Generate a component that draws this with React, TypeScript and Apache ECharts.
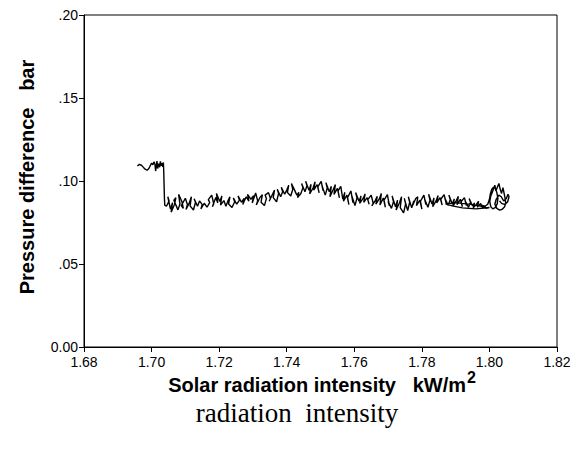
import React, { useEffect, useRef } from "react";
import * as echarts from "echarts";

const xTicks = [1.68, 1.7, 1.72, 1.74, 1.76, 1.78, 1.8, 1.82];
const yTicks = [0, 0.05, 0.1, 0.15, 0.2];

const segStart: number[][] = [
  [1.6958, 0.109], [1.6964, 0.11], [1.697, 0.1095], [1.6976, 0.1082], [1.6982, 0.107], [1.6987, 0.1065],
  [1.6992, 0.1075], [1.6996, 0.1092], [1.7, 0.1108], [1.7004, 0.1098], [1.7007, 0.1115], [1.701, 0.1102],
  [1.7012, 0.106], [1.7014, 0.1088], [1.7016, 0.112], [1.7018, 0.1075], [1.7021, 0.1105], [1.7024, 0.1083],
  [1.7026, 0.1118], [1.7029, 0.1092], [1.7031, 0.1108], [1.7033, 0.1085], [1.7035, 0.1112], [1.7036, 0.106],
  [1.7037, 0.098], [1.7038, 0.09], [1.7039, 0.0855],
];

const segLow1: number[][] = [
  [1.7044, 0.0848], [1.7052, 0.088], [1.7048, 0.0905], [1.7056, 0.083], [1.7062, 0.087], [1.7058, 0.0812],
  [1.7068, 0.086], [1.7072, 0.09], [1.7066, 0.0884], [1.7078, 0.0826], [1.7084, 0.0862], [1.708, 0.092],
  [1.709, 0.0875], [1.7094, 0.0835], [1.7088, 0.0852], [1.71, 0.0896], [1.7106, 0.0858], [1.7102, 0.0828],
  [1.7112, 0.087], [1.7118, 0.0905], [1.7114, 0.085], [1.7124, 0.0825], [1.713, 0.0872], [1.7126, 0.0893],
  [1.7136, 0.0848], [1.7142, 0.088], [1.715, 0.0858], [1.7146, 0.0832], [1.7156, 0.0866], [1.7164, 0.0842],
  [1.7172, 0.087], [1.7168, 0.0888], [1.7178, 0.0915], [1.7184, 0.0862], [1.718, 0.0845], [1.719, 0.09],
  [1.7196, 0.0868], [1.7192, 0.0925], [1.7202, 0.0876], [1.7208, 0.091], [1.7204, 0.0855], [1.7214, 0.0882],
  [1.722, 0.0848],
];

const segLow2: number[][] = [
  [1.7226, 0.088], [1.7232, 0.0905], [1.7228, 0.0862], [1.7238, 0.084], [1.7246, 0.0875], [1.7242, 0.0898],
  [1.7252, 0.086], [1.726, 0.0885], [1.7256, 0.091], [1.7266, 0.0872], [1.7274, 0.0895], [1.727, 0.0858],
  [1.728, 0.0905], [1.7288, 0.0878], [1.7284, 0.092], [1.7294, 0.089], [1.7302, 0.0912], [1.7298, 0.0868],
  [1.7308, 0.0928], [1.7314, 0.088], [1.731, 0.0855], [1.732, 0.0898], [1.7328, 0.0918], [1.7324, 0.0872],
  [1.7334, 0.0852], [1.734, 0.0895], [1.7336, 0.0915], [1.7346, 0.093], [1.7352, 0.0895], [1.7348, 0.0878],
  [1.7358, 0.092], [1.7364, 0.0945], [1.736, 0.09], [1.737, 0.0875], [1.7376, 0.0925], [1.7372, 0.095],
  [1.7382, 0.0905], [1.7388, 0.0935], [1.7384, 0.0962], [1.7394, 0.092], [1.74, 0.0945],
];

const segHigh: number[][] = [
  [1.7406, 0.0975], [1.7402, 0.093], [1.7412, 0.091], [1.7418, 0.095], [1.7414, 0.0985], [1.7424, 0.0942],
  [1.743, 0.0915], [1.7436, 0.0932], [1.7432, 0.09], [1.7442, 0.0925], [1.7448, 0.096], [1.7444, 0.0985],
  [1.7454, 0.0935], [1.746, 0.0972], [1.7456, 0.0998], [1.7466, 0.0945], [1.7472, 0.098], [1.7468, 0.0922],
  [1.7478, 0.0958], [1.7484, 0.0995], [1.748, 0.0945], [1.749, 0.0978], [1.7496, 0.0928], [1.7492, 0.0965],
  [1.7502, 0.0998], [1.7508, 0.094], [1.7504, 0.0975], [1.7514, 0.0915], [1.752, 0.0958], [1.7516, 0.099],
  [1.7526, 0.0935], [1.7532, 0.0968], [1.7528, 0.0905], [1.7538, 0.095], [1.7544, 0.0978], [1.754, 0.092],
  [1.755, 0.0955], [1.7556, 0.0898], [1.7552, 0.094], [1.756, 0.0968],
];

const segDip: number[][] = [
  [1.7566, 0.089], [1.7572, 0.0932], [1.7568, 0.0878], [1.7578, 0.0915], [1.7584, 0.0858], [1.758, 0.09],
  [1.759, 0.094], [1.7596, 0.087], [1.7592, 0.0915], [1.7602, 0.0852], [1.7608, 0.0898], [1.7604, 0.093],
  [1.7614, 0.0878], [1.762, 0.091], [1.7616, 0.0865], [1.7626, 0.0895], [1.7632, 0.0922], [1.7628, 0.0872],
  [1.7638, 0.09], [1.7644, 0.086], [1.764, 0.0888], [1.765, 0.0915], [1.7656, 0.0866], [1.7652, 0.085],
  [1.7662, 0.0882], [1.7668, 0.0908], [1.7664, 0.086], [1.7674, 0.0892], [1.768, 0.0925], [1.7676, 0.0855],
  [1.7686, 0.0898], [1.7692, 0.0842], [1.7688, 0.0885], [1.7698, 0.0918], [1.7704, 0.085], [1.77, 0.0878],
  [1.771, 0.0835], [1.7716, 0.0875], [1.7712, 0.091], [1.7722, 0.0845], [1.7728, 0.0885], [1.7724, 0.0825],
  [1.7734, 0.087], [1.774, 0.0905], [1.7736, 0.084], [1.7746, 0.0808], [1.7752, 0.0862], [1.7748, 0.0895],
  [1.7758, 0.0822], [1.7764, 0.0872], [1.776, 0.0905], [1.777, 0.0838], [1.7776, 0.088], [1.7772, 0.085],
  [1.7782, 0.0895],
];

const segFlat: number[][] = [
  [1.7788, 0.0905], [1.7784, 0.0852], [1.7794, 0.0885], [1.78, 0.083], [1.7796, 0.0878], [1.7806, 0.0915],
  [1.7812, 0.0858], [1.7808, 0.0892], [1.7818, 0.0842], [1.7824, 0.0885], [1.782, 0.092], [1.783, 0.0862],
  [1.7836, 0.0898], [1.7832, 0.0845], [1.7842, 0.088], [1.7848, 0.0912], [1.7844, 0.0868], [1.7854, 0.09],
  [1.786, 0.0855], [1.7856, 0.089], [1.7866, 0.0918], [1.7872, 0.0865], [1.7868, 0.0898], [1.7878, 0.0852],
  [1.7884, 0.0888], [1.788, 0.0915], [1.789, 0.0862], [1.7896, 0.0892], [1.7892, 0.0848], [1.7902, 0.0882],
  [1.7908, 0.0908], [1.7904, 0.0858], [1.7914, 0.089], [1.792, 0.0845], [1.7916, 0.0875], [1.7926, 0.09],
  [1.7932, 0.0852], [1.7928, 0.088], [1.7938, 0.0842], [1.7944, 0.0872], [1.794, 0.0895], [1.795, 0.085],
  [1.7956, 0.0868], [1.7952, 0.0838], [1.7962, 0.086], [1.7968, 0.0878], [1.7964, 0.0842], [1.7974, 0.0865],
  [1.798, 0.0836], [1.7976, 0.0855], [1.7986, 0.0848], [1.799, 0.0835], [1.8, 0.084], [1.796, 0.0832],
  [1.792, 0.0838], [1.789, 0.085], [1.787, 0.0862], [1.79, 0.087], [1.795, 0.0858], [1.7985, 0.0845],
];

const segEnd: number[][] = [
  [1.7995, 0.086], [1.8, 0.089], [1.8003, 0.0925], [1.8007, 0.095], [1.8012, 0.0962], [1.8018, 0.0955],
  [1.8022, 0.093], [1.8025, 0.0895], [1.8023, 0.0862], [1.8017, 0.084], [1.801, 0.0832], [1.8004, 0.0845],
  [1.8001, 0.0875], [1.8004, 0.091], [1.801, 0.094], [1.8016, 0.0975], [1.8019, 0.094], [1.8024, 0.0965],
  [1.8028, 0.0985], [1.8032, 0.095], [1.8036, 0.0925], [1.804, 0.096], [1.8043, 0.093], [1.8046, 0.09],
  [1.8048, 0.087], [1.8045, 0.0845], [1.8038, 0.083], [1.803, 0.0825], [1.8022, 0.0835], [1.8016, 0.086],
  [1.802, 0.089], [1.8028, 0.0915], [1.8035, 0.0905], [1.8042, 0.088], [1.805, 0.0895], [1.8055, 0.092],
  [1.8058, 0.0905], [1.8054, 0.0875], [1.8046, 0.0858], [1.8036, 0.0865], [1.803, 0.088],
];

const trace = [...segStart, ...segLow1, ...segLow2, ...segHigh, ...segDip, ...segFlat, ...segEnd];

const FONT = "Liberation Sans, Arial, sans-serif";

export default function App() {
  const ref = useRef<HTMLDivElement>(null);
  useEffect(() => {
    document.body.style.margin = "0";
    if (!ref.current) return;
    const chart = echarts.init(ref.current, undefined, { renderer: "svg" });
    chart.setOption({
      animation: false,
      backgroundColor: "#ffffff",
      grid: {
        left: 84,
        top: 15,
        right: 20,
        bottom: 109,
        show: true,
        borderColor: "#000",
        borderWidth: 1,
        backgroundColor: "transparent",
      },
      xAxis: {
        type: "value",
        min: xTicks[0],
        max: xTicks[xTicks.length - 1],
        interval: 0.02,
        axisLine: { show: true, lineStyle: { color: "#000", width: 1 } },
        axisTick: { show: true, inside: false, length: 5, lineStyle: { color: "#000" } },
        splitLine: { show: false },
        axisLabel: {
          color: "#000",
          fontFamily: FONT,
          fontSize: 14,
          margin: 8,
          formatter: (v: number) => v.toFixed(2),
        },
      },
      yAxis: {
        type: "value",
        min: yTicks[0],
        max: yTicks[yTicks.length - 1],
        interval: 0.05,
        axisLine: { show: true, lineStyle: { color: "#000", width: 1 } },
        axisTick: { show: true, inside: false, length: 5, lineStyle: { color: "#000" } },
        splitLine: { show: false },
        axisLabel: {
          color: "#000",
          fontFamily: FONT,
          fontSize: 14,
          margin: 6,
          formatter: (v: number) => (v === 0 ? "0.00" : v.toFixed(2).replace(/^0/, "")),
        },
      },
      series: [
        {
          type: "line",
          data: trace,
          showSymbol: false,
          symbol: "none",
          smooth: false,
          lineStyle: { color: "#000", width: 1.4 },
        },
      ],
      graphic: [
        {
          type: "text",
          x: 27,
          y: 177,
          rotation: Math.PI / 2,
          style: {
            text: "Pressure difference   bar",
            font: `bold 20px ${FONT}`,
            fill: "#000",
            textAlign: "center",
            textVerticalAlign: "middle",
          },
        },
        {
          type: "text",
          x: 466,
          y: 385,
          style: {
            text: "Solar radiation intensity   kW/m",
            font: `bold 20px ${FONT}`,
            fill: "#000",
            textAlign: "right",
            textVerticalAlign: "middle",
          },
        },
        {
          type: "text",
          x: 467,
          y: 377,
          style: {
            text: "2",
            font: `bold 16px ${FONT}`,
            fill: "#000",
            textAlign: "left",
            textVerticalAlign: "middle",
          },
        },
        {
          type: "text",
          x: 297,
          y: 413,
          style: {
            text: "radiation  intensity",
            font: `27px "Liberation Serif", "Times New Roman", serif`,
            fill: "#000",
            textAlign: "center",
            textVerticalAlign: "middle",
          },
        },
      ],
    });
    return () => chart.dispose();
  }, []);
  return <div ref={ref} style={{ width: 577, height: 456 }} />;
}
